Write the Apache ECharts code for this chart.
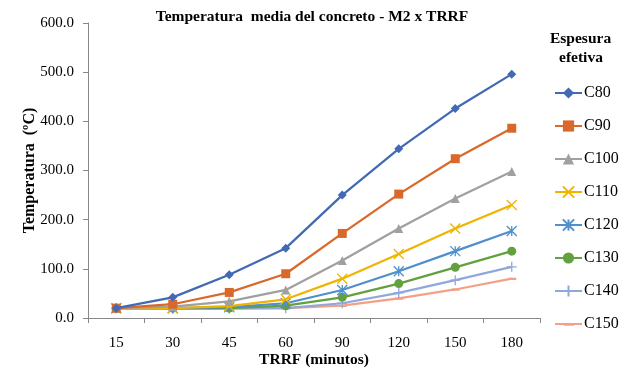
<!DOCTYPE html>
<html><head><meta charset="utf-8">
<script src="https://cdn.jsdelivr.net/npm/echarts@6/dist/echarts.min.js"></script>
<style>html,body{margin:0;padding:0;background:#fff}#c{width:637px;height:373px}</style>
</head><body><div id="c"></div>
<script>
const categories = ['15','30','45','60','90','120','150','180'];
const seriesNames = ['C80','C90','C100','C110','C120','C130','C140','C150'];
const C80  = [20, 42, 88, 142, 250, 344, 426, 496];
const C90  = [20, 28, 52, 90, 172, 252, 324, 386];
const C100 = [20, 23, 34, 57, 117, 182, 243, 298];
const C110 = [20, 20, 24, 38, 80, 130, 182, 230];
const C120 = [20, 20, 22, 30, 57, 95, 136, 177];
const C130 = [20, 20, 20, 25, 42, 70, 103, 136];
const C140 = [20, 19, 19, 20, 30, 51, 77, 104];
const C150 = [20, 19, 20, 20, 25, 40, 58, 80];
const yTicks = [0, 100, 200, 300, 400, 500, 600];

const values = [C80, C90, C100, C110, C120, C130, C140, C150];
const colors = ['#4169B4','#D9692A','#A0A0A0','#F0B400','#4F8FCB','#63A03E','#8FA8DC','#F2A186'];
const symbols = [
  ['diamond', 9],
  ['rect', 9],
  ['triangle', 9],
  ['path://M0,0L10,10M10,0L0,10', 10],
  ['path://M5,0L5,10M0,0L10,10M10,0L0,10', 10],
  ['circle', 9],
  ['path://M5,0L5,10M0,5L10,5', 10],
  ['path://M0,0L0.01,0M1,4L9,4L9,6.5L1,6.5ZM0,10L0.01,10', 9]
];
const serif = '"Liberation Serif", "Times New Roman", serif';

const series = seriesNames.map((n, i) => {
  const stroke = i === 3 || i === 4 || i === 6;
  return {
    name: n, type: 'line', data: values[i],
    symbol: symbols[i][0], symbolSize: symbols[i][1],
    lineStyle: { color: colors[i], width: 2.25 },
    itemStyle: stroke ? { color: colors[i], borderColor: colors[i], borderWidth: 1.3 } : { color: colors[i] },
    z: 10 - i,
    animation: false
  };
});

const chart = echarts.init(document.getElementById('c'), null, { renderer: 'canvas' });
chart.setOption({
  animation: false,
  color: colors,
  title: {
    text: 'Temperatura  media del concreto - M2 x TRRF',
    left: 307, top: 4, textAlign: 'center',
    textStyle: { fontFamily: serif, fontSize: 15.5, fontWeight: 'bold', color: '#000' }
  },
  graphic: [
    { type: 'text', left: 550, top: 31, style: { text: 'Espesura', font: 'bold 15.5px ' + serif, fill: '#000' } },
    { type: 'text', left: 559, top: 50, style: { text: 'efetiva', font: 'bold 15.5px ' + serif, fill: '#000' } }
  ],
  legend: {
    orient: 'vertical', left: 549, top: 80,
    itemWidth: 27, itemHeight: 14, itemGap: 17,
    data: seriesNames,
    textStyle: { fontFamily: serif, fontSize: 16, color: '#000', padding: [0, 0, 0, -3] }
  },
  grid: { left: 88, right: 97, top: 23, bottom: 50, containLabel: false },
  xAxis: {
    type: 'category', data: categories, boundaryGap: true,
    name: 'TRRF (minutos)', nameLocation: 'middle', nameGap: 34, nameMoveOverlap: false,
    nameTextStyle: { fontFamily: serif, fontSize: 15.5, fontWeight: 'bold', color: '#000' },
    axisLine: { lineStyle: { color: '#888', width: 1 } },
    axisTick: { show: true, length: 5, alignWithLabel: false, lineStyle: { color: '#888' } },
    axisLabel: { fontFamily: serif, fontSize: 15, color: '#000', margin: 18 }
  },
  yAxis: {
    type: 'value', min: 0, max: 600, interval: 100,
    name: 'Temperatura  (ºC)', nameLocation: 'middle', nameGap: 50, nameRotate: 90, nameMoveOverlap: false,
    nameTextStyle: { fontFamily: serif, fontSize: 16, fontWeight: 'bold', color: '#000' },
    axisLine: { show: true, lineStyle: { color: '#888', width: 1 } },
    axisTick: { show: true, length: 5, lineStyle: { color: '#888' } },
    splitLine: { show: false },
    axisLabel: { fontFamily: serif, fontSize: 15, color: '#000', margin: 14,
      formatter: v => yTicks.includes(v) ? v.toFixed(1) : '' }
  },
  series: series
});
</script>
</body></html>
